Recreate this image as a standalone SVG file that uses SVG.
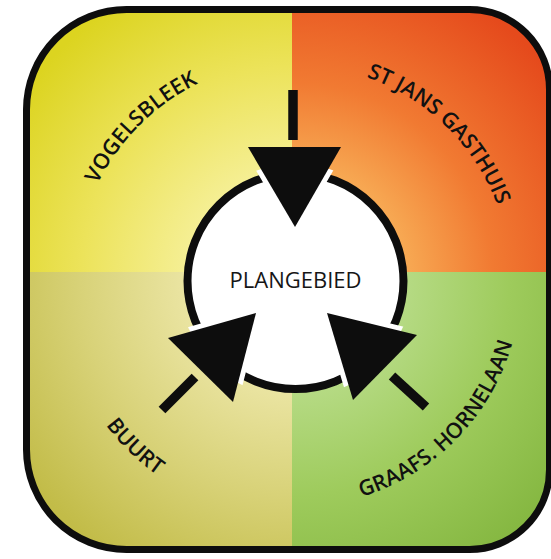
<svg xmlns="http://www.w3.org/2000/svg" width="551" height="559" viewBox="0 0 551 559">
  <style>
    .lbl { font-family: "Open Sans", "Liberation Sans", sans-serif; font-size: 21.5px; font-weight: 600; fill: #111111; }
    .center { font-family: "Open Sans", "Liberation Sans", sans-serif; font-size: 22px; font-weight: 500; fill: #161616; }
    .stub { stroke: #0d0d0d; stroke-width: 9.5; stroke-linecap: butt; fill: none; }
    .head { fill: #0d0d0d; }
    .halo { fill: none; stroke: #ffffff; stroke-width: 10; stroke-linejoin: round; }
  </style>
  <defs>
    <clipPath id="frameClip">
      <path id="framePath" d="M126.5,9.5 H469.5 A80,80 0 0 1 549.5,89.5 V469.5 A80,80 0 0 1 469.5,549.5 H126.5 A100,100 0 0 1 26.5,449.5 V109.5 A100,100 0 0 1 126.5,9.5 Z"/>
    </clipPath>
    <clipPath id="circleClip">
      <circle cx="295.5" cy="281" r="117"/>
    </clipPath>
    <radialGradient id="gTL" gradientUnits="userSpaceOnUse" cx="295" cy="281" r="330">
      <stop offset="0.3" stop-color="#f6f09a"/>
      <stop offset="0.65" stop-color="#ece35a"/>
      <stop offset="1" stop-color="#dcd420"/>
    </radialGradient>
    <radialGradient id="gTR" gradientUnits="userSpaceOnUse" cx="295" cy="281" r="330">
      <stop offset="0.3" stop-color="#f8b058"/>
      <stop offset="0.6" stop-color="#f17a32"/>
      <stop offset="1" stop-color="#e54a1c"/>
    </radialGradient>
    <radialGradient id="gBL" gradientUnits="userSpaceOnUse" cx="295" cy="281" r="330">
      <stop offset="0.3" stop-color="#ece6a6"/>
      <stop offset="0.65" stop-color="#d8d278"/>
      <stop offset="1" stop-color="#c2bc48"/>
    </radialGradient>
    <radialGradient id="gBR" gradientUnits="userSpaceOnUse" cx="295" cy="281" r="330">
      <stop offset="0.3" stop-color="#b8dc88"/>
      <stop offset="0.65" stop-color="#9ecb5c"/>
      <stop offset="1" stop-color="#86b842"/>
    </radialGradient>
    <path id="arcTL" d="M75.84,261.83 A220,220 0 0 1 275.83,61.84"/>
    <path id="arcTR" d="M311.57,65.64 A216,216 0 0 1 509.97,259.92"/>
    <path id="arcBR" d="M317.45,505.88 A226,226 0 0 0 520.36,297.95"/>
    <path id="arcBL" d="M58.30,305.88 A238,238 0 0 0 278.40,518.42"/>
  </defs>

  <g id="background" clip-path="url(#frameClip)">
    <rect x="0" y="0" width="292" height="272" fill="url(#gTL)"/>
    <rect x="292" y="0" width="259" height="272" fill="url(#gTR)"/>
    <rect x="0" y="272" width="292" height="287" fill="url(#gBL)"/>
    <rect x="292" y="272" width="259" height="287" fill="url(#gBR)"/>
  </g>
  <use href="#framePath" fill="none" stroke="#0d0d0d" stroke-width="7"/>

  <g id="vogelsbleek">
    <text class="lbl"><textPath href="#arcTL" startOffset="50%" text-anchor="middle">VOGELSBLEEK</textPath></text>
  </g>
  <g id="st-jans-gasthuis">
    <text class="lbl"><textPath href="#arcTR" startOffset="50%" text-anchor="middle">ST JANS GASTHUIS</textPath></text>
  </g>
  <g id="buurt">
    <text class="lbl"><textPath href="#arcBL" startOffset="50%" text-anchor="middle">BUURT</textPath></text>
  </g>
  <g id="graafs-hornelaan">
    <text class="lbl"><textPath href="#arcBR" startOffset="50%" text-anchor="middle">GRAAFS. HORNELAAN</textPath></text>
  </g>

  <g id="plangebied">
    <circle cx="295.5" cy="281" r="108" fill="#ffffff" stroke="#0d0d0d" stroke-width="8"/>
    <text x="295.5" y="288" text-anchor="middle" class="center">PLANGEBIED</text>
  </g>

  <g id="connectors">
    <g clip-path="url(#circleClip)">
      <polygon class="halo" points="248,147 341,147 295,227"/>
      <polygon class="halo" points="168,338 256,313 233,402"/>
      <polygon class="halo" points="327,313 417,335 353,400"/>
    </g>
    <g id="arrow-top">
      <line class="stub" x1="293" y1="90" x2="293" y2="140"/>
      <polygon class="head" points="248,147 341,147 295,227"/>
    </g>
    <g id="arrow-bottom-left">
      <line class="stub" x1="162" y1="410" x2="195" y2="377"/>
      <polygon class="head" points="168,338 256,313 233,402"/>
    </g>
    <g id="arrow-bottom-right">
      <line class="stub" x1="392" y1="376" x2="426" y2="407"/>
      <polygon class="head" points="327,313 417,335 353,400"/>
    </g>
  </g>
</svg>
